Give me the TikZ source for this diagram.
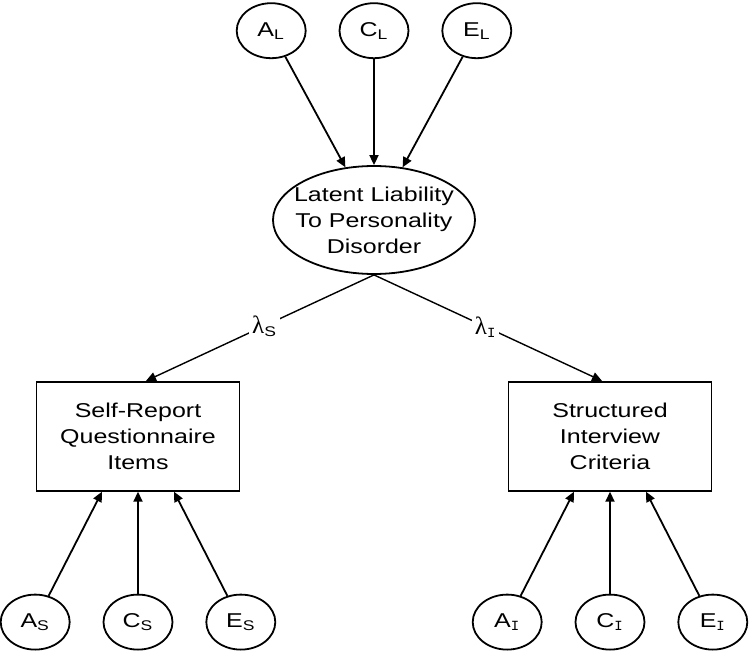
\documentclass[tikz,border=0pt]{standalone}
\usepackage{fontspec}
\setmainfont{Liberation Sans}[FakeStretch=1.25]
\setmonofont{Liberation Mono}
\newfontfamily\grk{Liberation Serif}
\usetikzlibrary{positioning,arrows.meta,shapes.geometric}

\begin{document}
\begin{tikzpicture}[node distance=53pt and 16pt, every node/.style={font=\fontsize{10}{13}\selectfont},
  latent/.style={draw, ellipse, line width=0.9pt, minimum width=34.5pt, minimum height=27.5pt, inner sep=0pt},
  liab/.style={latent, align=center, inner xsep=-5.5pt, inner ysep=1pt, minimum width=101pt, minimum height=54pt},
  obs/.style={draw, line width=0.9pt, align=center, minimum width=101.5pt, minimum height=54.5pt},
  arr/.style={line width=0.9pt, -{Triangle[length=5pt,width=4.5pt]}},
  ld/.style={line width=0.7pt, -{Triangle[length=5pt,width=4.5pt]}},
  lam/.style={fill=white, inner sep=1.5pt}]
\useasboundingbox (0,0) rectangle (375pt,330pt);
\node[liab] (lat) at (187pt,220pt) {Latent Liability\\To Personality\\Disorder};
\node[latent, above=of lat] (CL) {C\textsubscript{L}};
\node[latent, left=of CL] (AL) {A\textsubscript{L}};
\node[latent, right=of CL] (EL) {E\textsubscript{L}};
\node[obs, below=53pt of lat, xshift=-118pt] (selfrep) {Self-Report\\Questionnaire\\Items};
\node[obs, below=53pt of lat, xshift=118pt] (interv) {Structured\\Interview\\Criteria};
\node[latent, below=51pt of selfrep] (CS) {C\textsubscript{S}};
\node[latent, left=of CS] (AS) {A\textsubscript{S}};
\node[latent, right=of CS] (ES) {E\textsubscript{S}};
\node[latent, below=51pt of interv] (CI) {C\textsubscript{\texttt{I}}};
\node[latent, left=of CI] (AI) {A\textsubscript{\texttt{I}}};
\node[latent, right=of CI] (EI) {E\textsubscript{\texttt{I}}};
\draw[arr] (AL) -- (lat); \draw[arr] (CL) -- (lat); \draw[arr] (EL) -- (lat);
\draw[ld] (lat.south) -- node[lam, pos=0.48] {{\grk\fontsize{12.5}{13}\selectfont λ}\textsubscript{S}} ([xshift=4pt]selfrep.north);
\draw[ld] (lat.south) -- node[lam, pos=0.49] {{\grk\fontsize{12.5}{13}\selectfont λ}\textsubscript{\texttt{I}}} ([xshift=-4pt]interv.north);
\draw[arr] (AS) -- ([xshift=-18pt]selfrep.south); \draw[arr] (CS) -- (selfrep.south); \draw[arr] (ES) -- ([xshift=18pt]selfrep.south);
\draw[arr] (AI) -- ([xshift=-18pt]interv.south); \draw[arr] (CI) -- (interv.south); \draw[arr] (EI) -- ([xshift=18pt]interv.south);
\end{tikzpicture}
\end{document}
